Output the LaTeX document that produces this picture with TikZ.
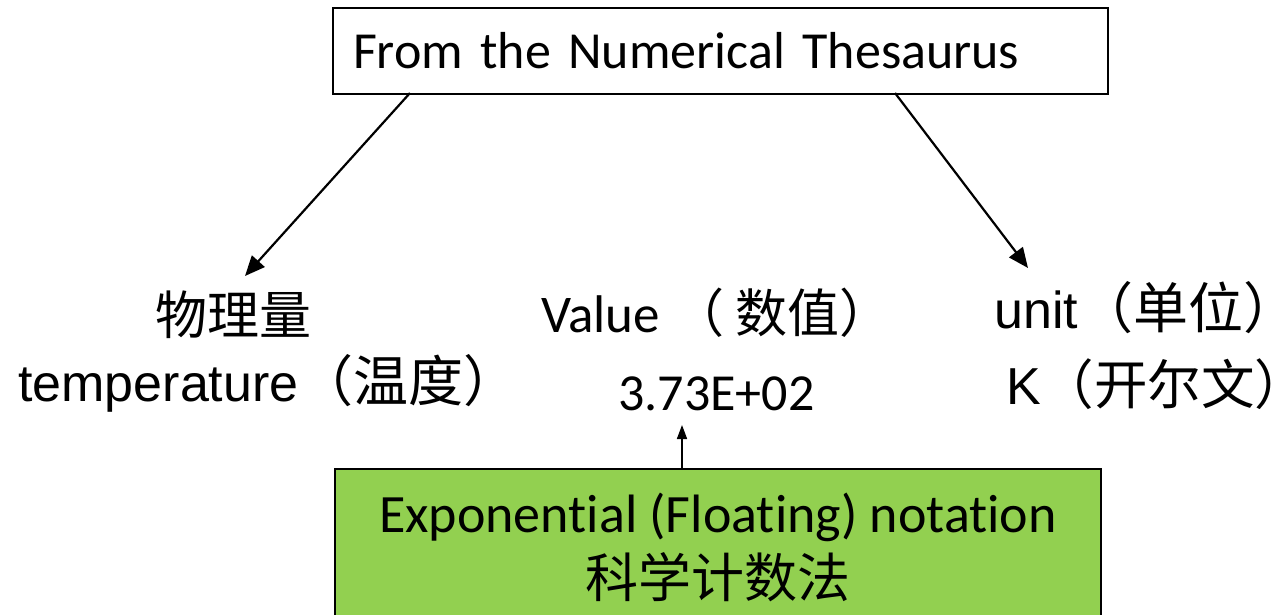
\documentclass[tikz,border=0pt]{standalone}
\usepackage{fontspec}
\setmainfont{Carlito}[Ligatures=NoCommon]
\newfontfamily\cjk{Noto Sans CJK SC}
\newfontfamily\ar{Liberation Sans}
\usetikzlibrary{arrows.meta}
\definecolor{boxgreen}{HTML}{92D050}
\tikzset{
  lbl/.style={anchor=base west, inner sep=0pt, text=black},
  arr/.style={line width=2.2pt, -{Triangle[length=20pt,width=17pt]}},
  arrthin/.style={line width=1.6pt, -{Triangle[length=14pt,width=10pt]}},
  frame/.style={draw=black, line width=2pt}
}
\begin{document}
\begin{tikzpicture}[x=1pt,y=-1pt]
\useasboundingbox (0,0) rectangle (1278,615);
\clip (0,0) rectangle (1278,615);
% top box
\node[frame, minimum width=775pt, minimum height=86pt, text width=735pt, align=left, inner xsep=20pt, inner ysep=0pt, anchor=north west,
  font=\fontsize{52}{60}\selectfont] (top) at (332,7) {From the Numerical Thesaurus};
% bottom green box
\node[frame, fill=boxgreen, minimum width=766pt, minimum height=156pt, align=center, inner sep=0pt, anchor=north west,
  font=\fontsize{54}{65}\selectfont] (bot) at (334,468) {Exponential (Floating) notation\\{\cjk\fontsize{53}{65}\selectfont 科学计数法}};
% labels
\node[lbl, font=\cjk\fontsize{52}{60}\selectfont] (qty) at (155,334) {物理量};
\node[lbl, font=\fontsize{52}{60}\selectfont] (temp) at (18,401) {{\ar temperature}{\cjk\fontsize{55}{60}\selectfont （温度）\hspace{-0.4em}}};
\node[lbl, font=\fontsize{53}{60}\selectfont] (val) at (541,332) {Value {\cjk\fontsize{52}{60}\selectfont （ 数值）\hspace{-0.4em}}};
\node[lbl, font=\fontsize{52}{60}\selectfont] (num) at (618,410) {3.73E+02};
\node[lbl, font=\fontsize{52}{60}\selectfont] (unit) at (994,328) {{\ar unit}{\cjk\fontsize{55}{60}\selectfont （单位）\hspace{-0.45em}}};
\node[lbl, font=\fontsize{52}{60}\selectfont] (kel) at (1006,404) {{\ar K}{\cjk\fontsize{53.5}{60}\selectfont （开尔文）\hspace{-0.45em}}};
% connectors
\coordinate (l1) at (410,93);
\coordinate (l2) at (245,276);
\coordinate (r1) at (895,93);
\coordinate (r2) at (1028,268);
\coordinate (v2) at (682,425);
\draw[arr] (l1) -- (l2);
\draw[arr] (r1) -- (r2);
\draw[arrthin] (bot.north -| v2) -- (v2);
\end{tikzpicture}
\end{document}
